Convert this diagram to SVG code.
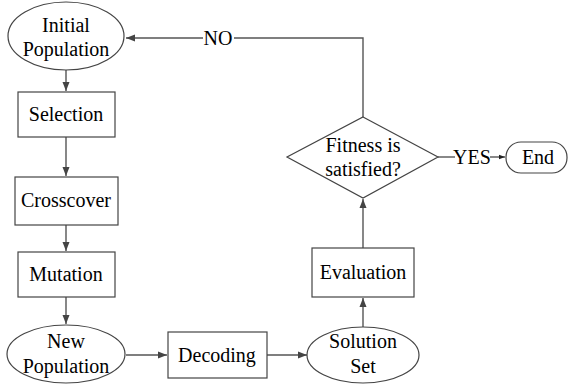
<svg xmlns="http://www.w3.org/2000/svg" width="571" height="385" viewBox="0 0 571 385">
<style>
.s{fill:#fff;stroke:#444;stroke-width:1.2}
.c{fill:none;stroke:#555;stroke-width:1.4}
text{font-family:'Liberation Serif','Times New Roman',Tinos,'DejaVu Serif',serif;font-size:20px;fill:#000;text-anchor:middle}
</style>
<defs>
<marker id="a" markerUnits="userSpaceOnUse" markerWidth="10" markerHeight="10" viewBox="0 0 10 10" refX="9" refY="5" orient="auto"><path d="M0,1.5 L9,5 L0,8.5 Z" fill="#444"/></marker>
<marker id="b" markerUnits="userSpaceOnUse" markerWidth="7" markerHeight="7" viewBox="0 0 10 10" refX="9" refY="5" orient="auto"><path d="M0,1.5 L9,5 L0,8.5 Z" fill="#222"/></marker>
</defs>
<g id="connectors">
<path class="c" d="M66,70 V91" marker-end="url(#a)"/>
<path class="c" d="M66,137 V176" marker-end="url(#a)"/>
<path class="c" d="M66,225 V251" marker-end="url(#a)"/>
<path class="c" d="M66,297 V324" marker-end="url(#a)"/>
<path class="c" d="M126,355 H167" marker-end="url(#a)"/>
<path class="c" d="M267,355 H307" marker-end="url(#a)"/>
<path class="c" d="M363,327 V298" marker-end="url(#a)"/>
<path class="c" d="M363,248 V199" marker-end="url(#a)"/>
<path class="c" d="M363,117 V38 H234 M203,38 H126" marker-end="url(#a)"/>
<text x="218" y="45">NO</text>
<path class="c" d="M438,157 H455"/>
<text x="472" y="164">YES</text>
<path class="c" d="M490,157 H505" marker-end="url(#b)"/>
</g>
<g id="initial"><ellipse class="s" cx="66" cy="36" rx="58" ry="34"/><text x="66" y="32">Initial</text><text x="66" y="56">Population</text></g>
<g id="selection"><rect class="s" x="18" y="92" width="97" height="45"/><text x="66" y="121">Selection</text></g>
<g id="crossover"><rect class="s" x="15" y="177" width="103" height="48"/><text x="66" y="207">Crosscover</text></g>
<g id="mutation"><rect class="s" x="18" y="252" width="97" height="45"/><text x="66" y="281">Mutation</text></g>
<g id="newpop"><ellipse class="s" cx="66" cy="354" rx="59" ry="29"/><text x="66" y="348">New</text><text x="66" y="373">Population</text></g>
<g id="decoding"><rect class="s" x="168" y="332" width="99" height="46"/><text x="217" y="362">Decoding</text></g>
<g id="solution"><ellipse class="s" cx="363" cy="355" rx="56" ry="28"/><text x="363" y="348">Solution</text><text x="363" y="373">Set</text></g>
<g id="evaluation"><rect class="s" x="312" y="248" width="102" height="49"/><text x="363" y="279">Evaluation</text></g>
<g id="fitness"><polygon class="s" points="363,117 438,157 363,198 287,157"/><text x="363" y="152">Fitness is</text><text x="363" y="176">satisfied?</text></g>
<g id="end"><rect class="s" x="506" y="142" width="61" height="31" rx="15" ry="15"/><text x="538" y="164">End</text></g>
</svg>
